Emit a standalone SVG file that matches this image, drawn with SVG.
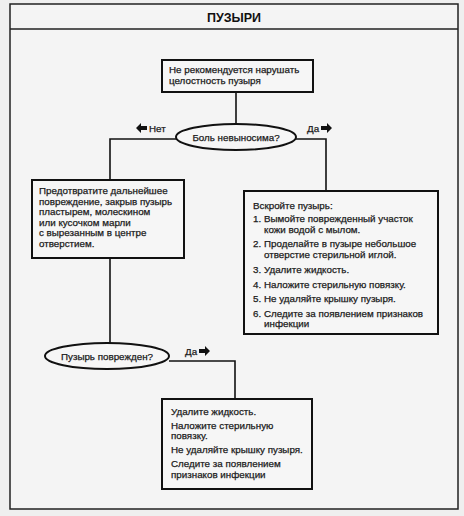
<svg xmlns="http://www.w3.org/2000/svg" width="464" height="516" viewBox="0 0 464 516">
<style>
.t{font-family:"Liberation Sans",Arial,sans-serif;font-size:9.8px;fill:#1a1a1a;stroke:#1a1a1a;stroke-width:0.25}
.box{fill:#f6f6f6;stroke:#111;stroke-width:2}
.ell{fill:#f6f6f6;stroke:#111;stroke-width:2}
.ln{fill:none;stroke:#111;stroke-width:1.6}
.ar{fill:#111}
</style>
<rect x="0" y="0" width="464" height="516" fill="#efefef"/>
<rect x="10" y="4" width="448" height="505" fill="#f4f4f4" stroke="#222" stroke-width="1.5"/>
<line x1="10" y1="29" x2="458" y2="29" stroke="#222" stroke-width="1.5"/>
<text x="234" y="22" text-anchor="middle" style="font-family:'Liberation Sans',Arial,sans-serif;font-size:12.5px;font-weight:bold;fill:#111">ПУЗЫРИ</text>

<g id="connectors">
<line class="ln" x1="236" y1="92" x2="236" y2="124"/>
<polyline class="ln" points="176,139 110,139 110,180"/>
<polyline class="ln" points="295,139 326,139 326,191"/>
<line class="ln" x1="110" y1="258" x2="110" y2="343"/>
<polyline class="ln" points="169,361 235,361 235,399"/>
<g id="lbl-no">
<polygon class="ar" points="136,128 141,123 141,126 147,126 147,130 141,130 141,133"/>
<text class="t" x="149" y="131.5">Нет</text>
</g>
<g id="lbl-yes1">
<text class="t" x="307" y="131.5">Да</text>
<polygon class="ar" points="332,128 327,123 327,126 321,126 321,130 327,130 327,133"/>
</g>
<g id="lbl-yes2">
<text class="t" x="185" y="354.5">Да</text>
<polygon class="ar" points="210,351 205,346 205,349 199,349 199,353 205,353 205,356"/>
</g>
</g>

<g id="n-start">
<rect class="box" x="162" y="60" width="151" height="32"/>
<text class="t" x="169" y="73">Не рекомендуется нарушать</text>
<text class="t" x="169" y="84">целостность пузыря</text>
</g>

<g id="d-pain">
<ellipse class="ell" cx="236" cy="137" rx="60" ry="13"/>
<text class="t" x="236" y="141" text-anchor="middle">Боль невыносима?</text>
</g>

<g id="n-protect">
<rect class="box" x="32" y="180" width="152" height="78"/>
<text class="t" x="39" y="194">Предотвратите дальнейшее</text>
<text class="t" x="39" y="204.5">повреждение, закрыв пузырь</text>
<text class="t" x="39" y="215">пластырем, молескином</text>
<text class="t" x="39" y="225.5">или кусочком марли</text>
<text class="t" x="39" y="236">с вырезанным в центре</text>
<text class="t" x="39" y="246.5">отверстием.</text>
</g>

<g id="n-open">
<rect class="box" x="244" y="191" width="194" height="143"/>
<text class="t" x="253" y="209">Вскройте пузырь:</text>
<text class="t" x="253" y="222">1.</text>
<text class="t" x="264" y="222">Вымойте поврежденный участок</text>
<text class="t" x="264" y="232.5">кожи водой с мылом.</text>
<text class="t" x="253" y="247">2.</text>
<text class="t" x="264" y="247">Проделайте в пузыре небольшое</text>
<text class="t" x="264" y="257.5">отверстие стерильной иглой.</text>
<text class="t" x="253" y="272.5">3.</text>
<text class="t" x="264" y="272.5">Удалите жидкость.</text>
<text class="t" x="253" y="287.5">4.</text>
<text class="t" x="264" y="287.5">Наложите стерильную повязку.</text>
<text class="t" x="253" y="302">5.</text>
<text class="t" x="264" y="302">Не удаляйте крышку пузыря.</text>
<text class="t" x="253" y="316.5">6.</text>
<text class="t" x="264" y="316.5">Следите за появлением признаков</text>
<text class="t" x="264" y="327">инфекции</text>
</g>

<g id="d-damaged">
<ellipse class="ell" cx="107" cy="356" rx="62" ry="13"/>
<text class="t" x="107" y="360" text-anchor="middle">Пузырь поврежден?</text>
</g>

<g id="n-remove">
<rect class="box" x="162" y="399" width="150" height="90"/>
<text class="t" x="171" y="415">Удалите жидкость.</text>
<text class="t" x="171" y="428.5">Наложите стерильную</text>
<text class="t" x="171" y="439">повязку.</text>
<text class="t" x="171" y="453">Не удаляйте крышку пузыря.</text>
<text class="t" x="171" y="467">Следите за появлением</text>
<text class="t" x="171" y="477.5">признаков инфекции</text>
</g>
</svg>
